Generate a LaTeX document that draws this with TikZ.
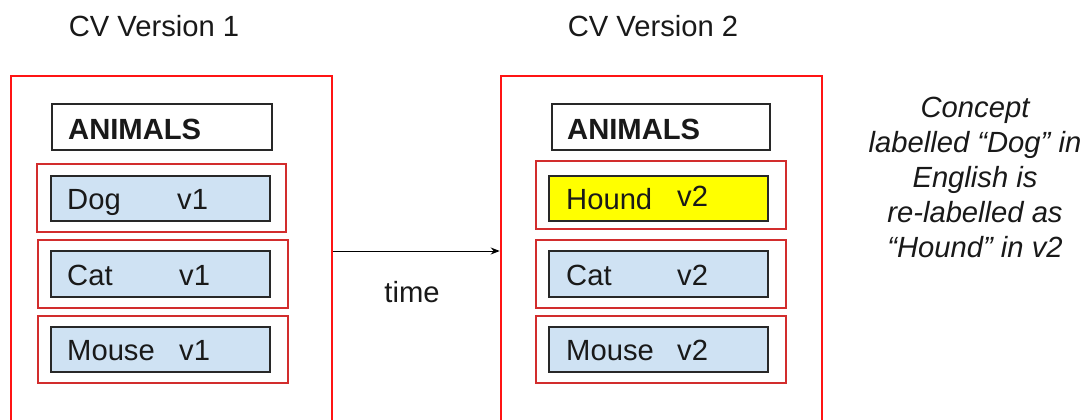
\documentclass[tikz,border=0pt]{standalone}
\usepackage{fontspec}
\setmainfont{Liberation Sans}
\usetikzlibrary{arrows.meta}

\definecolor{frame}{RGB}{255,20,20}
\definecolor{groupred}{RGB}{210,45,45}
\definecolor{edge}{RGB}{40,40,40}
\definecolor{termblue}{RGB}{207,226,243}
\definecolor{hilite}{RGB}{255,255,0}
\definecolor{ink}{RGB}{25,25,25}

\tikzset{
  versionbox/.style={draw=frame, line width=2.6pt, minimum width=321, minimum height=350, inner sep=0},
  headbox/.style={draw=edge, line width=1.4pt, fill=white, minimum height=46, inner sep=0},
  groupbox/.style={draw=groupred, line width=1.3pt, minimum width=250, minimum height=68, inner sep=0},
  termbox/.style={draw=edge, line width=1.4pt, fill=termblue, minimum width=219, minimum height=45, inner sep=0},
  newterm/.style={termbox, fill=hilite},
  txt/.style={inner sep=0, text=ink, font=\fontsize{29.2}{35}\selectfont},
  lbl/.style={txt, anchor=base west},
  head/.style={txt, anchor=base west, font=\fontsize{29.2}{35}\selectfont\bfseries},
  title/.style={txt, anchor=base},
  note/.style={txt, align=center, anchor=north, font=\fontsize{29.2}{35}\selectfont\itshape},
  timearrow/.style={draw=black, line width=1pt, -{Stealth[length=9pt,width=7pt]}}
}

\begin{document}
\begin{tikzpicture}[x=1pt, y=-1pt]
  \useasboundingbox (0,0) rectangle (1087,420);
  \clip (0,0) rectangle (1087,420);

  % titles
  \node[title] (title1) at (154,37) {CV Version 1};
  \node[title] (title2) at (653,37) {CV Version 2};

  % version frames (run off the bottom edge)
  \node[versionbox] (cv1) at (171.5,251) {};
  \node[versionbox] (cv2) at (661.5,251) {};

  % ---- version 1 ----
  \node[headbox, minimum width=220] (head1) at (162,127) {};
  \node[head] (head1t) at (68,139) {ANIMALS};

  \node[groupbox, minimum width=249] (g1a) at (161.5,198) {};
  \node[termbox] (t1a) at (160.5,198.5) {};
  \node[lbl] (n1a) at (67,209) {Dog};
  \node[lbl] (v1a) at (177,209) {v1};

  \node[groupbox] (g1b) at (163,274) {};
  \node[termbox, minimum height=46] (t1b) at (160.5,274) {};
  \node[lbl] (n1b) at (67,285) {Cat};
  \node[lbl] (v1b) at (179,285) {v1};

  \node[groupbox, minimum height=67] (g1c) at (163,349.5) {};
  \node[termbox] (t1c) at (160.5,349.5) {};
  \node[lbl] (n1c) at (67,360) {Mouse};
  \node[lbl] (v1c) at (179,360) {v1};

  % ---- version 2 ----
  \node[headbox, minimum width=218] (head2) at (661,127) {};
  \node[head] (head2t) at (567,139) {ANIMALS};

  \node[groupbox] (g2a) at (661,195) {};
  \node[newterm] (t2a) at (658.5,198.5) {};
  \node[lbl] (n2a) at (566,209) {Hound};
  \node[lbl] (v2a) at (677,206) {v2};

  \node[groupbox] (g2b) at (661,274) {};
  \node[termbox, minimum height=46] (t2b) at (658.5,274) {};
  \node[lbl] (n2b) at (566,285) {Cat};
  \node[lbl] (v2b) at (677,285) {v2};

  \node[groupbox, minimum height=67] (g2c) at (661,349.5) {};
  \node[termbox] (t2c) at (658.5,349.5) {};
  \node[lbl] (n2c) at (566,360) {Mouse};
  \node[lbl] (v2c) at (677,360) {v2};

  % time arrow between the versions
  \draw[timearrow] (cv1.east) -- (cv2.west);
  \node[title] (time) at (412,302) {time};

  % side note
  \node[note] (remark) at (975,97) {Concept\\labelled “Dog” in\\English is\\re-labelled as\\“Hound” in v2};
\end{tikzpicture}
\end{document}
